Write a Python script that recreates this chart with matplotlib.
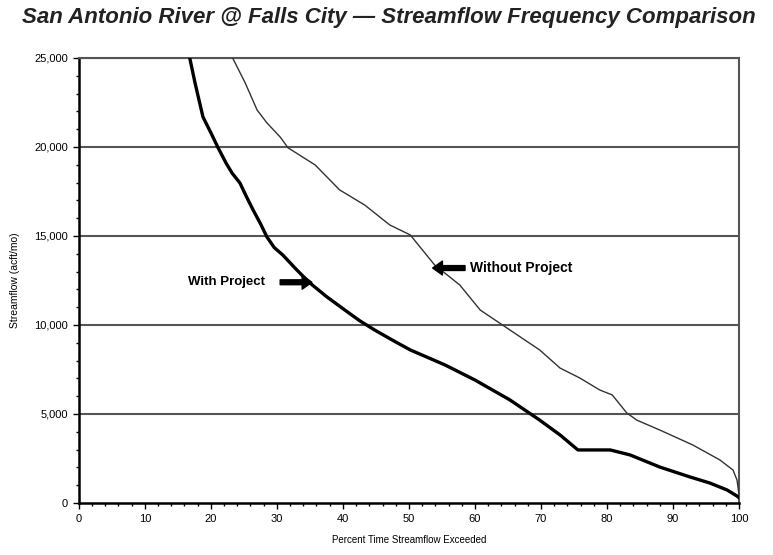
import matplotlib
matplotlib.use("Agg")
import matplotlib.pyplot as plt
from matplotlib.ticker import MultipleLocator, FuncFormatter

# Percent time exceeded / streamflow
with_pct = [16.8, 17.6, 18.8, 20.0, 21.1, 22.3, 23.2, 24.4, 25.4, 26.4, 27.5,
            28.5, 29.6, 30.9, 33.0, 35.0, 37.5, 40.3, 42.5, 44.8, 47.5, 50.2,
            55.5, 60.0, 65.3, 69.8, 72.9, 75.6, 80.5, 83.5, 88.0, 92.6, 95.6,
            98.2, 99.7, 100.0]
with_flow = [25000, 23600, 21690, 20800, 19950, 19100, 18540, 17980, 17200,
             16460, 15700, 14940, 14350, 13930, 13100, 12360, 11600, 10840,
             10250, 9720, 9150, 8600, 7750, 6910, 5790, 4660, 3820, 2980, 2980,
             2700, 2020, 1460, 1120, 730, 390, 300]

without_pct = [23.3, 25.2, 27.0, 28.5, 30.5, 31.7, 35.8, 39.5, 43.3, 47.1,
               50.2, 53.9, 57.7, 60.8, 65.3, 69.8, 72.9, 75.9, 78.9, 80.8,
               83.0, 84.5, 88.0, 93.0, 97.1, 99.1, 99.7, 100.0]
without_flow = [25000, 23600, 22080, 21350, 20560, 19950, 18990, 17590, 16740,
                15620, 15060, 13370, 12250, 10840, 9720, 8600, 7580, 7020,
                6350, 6070, 5060, 4660, 4100, 3260, 2420, 1850, 1290, 500]

plt.rcParams["font.family"] = ["Liberation Sans", "DejaVu Sans"]

fig = plt.figure(figsize=(7.73, 5.55), dpi=100)
ax = fig.add_axes([0.102, 0.0937, 0.854, 0.8018])

for y in range(5000, 25001, 5000):
    ax.axhline(y, color="#555555", lw=1.5, zorder=1)

ax.plot(without_pct, without_flow, color="#333333", lw=1.0, zorder=3)
ax.plot(with_pct, with_flow, color="black", lw=2.4, zorder=3)

ax.set_xlim(0, 100)
ax.set_ylim(0, 25000)
ax.xaxis.set_major_locator(MultipleLocator(10))
ax.xaxis.set_minor_locator(MultipleLocator(2))
ax.yaxis.set_major_locator(MultipleLocator(5000))
ax.yaxis.set_minor_locator(MultipleLocator(1000))
ax.yaxis.set_major_formatter(FuncFormatter(lambda v, p: f"{int(v):,}"))
ax.tick_params(which="major", direction="out", length=4, width=1, labelsize=8, pad=4)
ax.tick_params(which="minor", direction="out", length=2.5, width=1)

for side in ("left", "bottom"):
    ax.spines[side].set_linewidth(1.8)
    ax.spines[side].set_color("black")
for side in ("top", "right"):
    ax.spines[side].set_linewidth(1.5)
    ax.spines[side].set_color("#555555")

ax.set_xlabel("Percent Time Streamflow Exceeded", fontsize=7, labelpad=8)
ax.set_ylabel("Streamflow (acft/mo)", fontsize=7.5, labelpad=10)

arrow = dict(facecolor="black", edgecolor="black", width=3.5, headwidth=10,
             headlength=7, shrink=0)
ax.annotate("", xy=(35.3, 12400), xytext=(30.5, 12400), arrowprops=arrow)
ax.text(28.2, 12400, "With Project", fontsize=9.5, fontweight="bold",
        ha="right", va="center")
ax.annotate("", xy=(53.6, 13200), xytext=(58.5, 13200), arrowprops=arrow)
ax.text(59.3, 13200, "Without Project", fontsize=10, fontweight="bold",
        ha="left", va="center")

fig.text(0.028, 0.968, "San Antonio River @ Falls City \u2014 Streamflow Frequency Comparison",
         fontsize=16, fontweight="bold", fontstyle="italic", color="#222222",
         ha="left", va="center")

fig.savefig("out.png", dpi=100)
